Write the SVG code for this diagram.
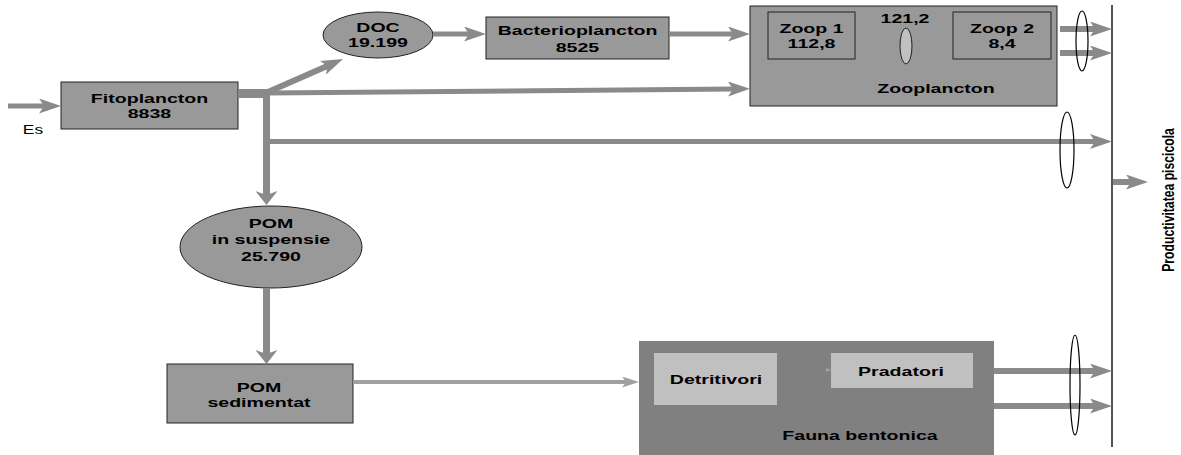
<svg xmlns="http://www.w3.org/2000/svg" width="1181" height="455" viewBox="0 0 1181 455">
<style>
.t{font-family:"Liberation Sans",Arial,sans-serif;font-weight:bold;font-size:13.5px;text-anchor:middle;fill:#000}
.r{font-family:"Liberation Sans",Arial,sans-serif;font-size:12px;text-anchor:middle;fill:#000}
.box{fill:#999;stroke:#222;stroke-width:1}
.ln{stroke:#8a8a8a;fill:none;stroke-linecap:butt}
.lens{fill:none;stroke:#000;stroke-width:1.2}
</style>
<defs>
<marker id="a" markerUnits="userSpaceOnUse" markerWidth="22" markerHeight="15" viewBox="0 0 22 15" refX="6" refY="7.5" orient="auto"><path d="M0,0 L22,7.5 L0,15 L5,7.5 z" fill="#8a8a8a"/></marker>
<marker id="b" markerUnits="userSpaceOnUse" markerWidth="14" markerHeight="22" viewBox="0 0 14 22" refX="5" refY="11" orient="auto"><path d="M0,0 L14,11 L0,22 L4,11 z" fill="#8a8a8a"/></marker>
<marker id="c" markerUnits="userSpaceOnUse" markerWidth="17" markerHeight="11" viewBox="0 0 17 11" refX="5" refY="5.5" orient="auto"><path d="M0,0 L17,5.5 L0,11 L4,5.5 z" fill="#a0a0a0"/></marker>
</defs>

<g id="fitoplancton">
<rect class="box" x="61" y="82" width="177" height="47"/>
<text class="t" transform="translate(149.5,103) scale(1.45,1)"><tspan x="0" y="0">Fitoplancton</tspan><tspan x="0" y="15">8838</tspan></text>
</g>
<g id="es"><text class="r" transform="translate(33,134) scale(1.45,1)">Es</text></g>

<g id="doc">
<ellipse cx="378" cy="35" rx="55" ry="23" fill="#999" stroke="#222" stroke-width="1"/>
<text class="t" transform="translate(378,32) scale(1.45,1)"><tspan x="0" y="0">DOC</tspan><tspan x="0" y="15">19.199</tspan></text>
</g>

<g id="bacterioplancton">
<rect class="box" x="486" y="17" width="183" height="42"/>
<text class="t" transform="translate(577.5,35) scale(1.45,1)"><tspan x="0" y="0">Bacterioplancton</tspan><tspan x="0" y="17">8525</tspan></text>
</g>

<g id="zooplancton">
<rect class="box" x="750" y="6" width="307" height="100"/>
<rect class="box" x="768" y="12" width="87" height="47"/>
<rect class="box" x="953" y="12" width="98" height="47"/>
<text class="t" transform="translate(811.5,33) scale(1.45,1)"><tspan x="0" y="0">Zoop 1</tspan><tspan x="0" y="15">112,8</tspan></text>
<text class="t" transform="translate(1002,33) scale(1.45,1)"><tspan x="0" y="0">Zoop 2</tspan><tspan x="0" y="15">8,4</tspan></text>
<text class="t" transform="translate(905,23) scale(1.45,1)">121,2</text>
<ellipse cx="906" cy="46" rx="6" ry="18" fill="#c0c0c0" stroke="#222" stroke-width="1"/>
<text class="t" transform="translate(936,93) scale(1.45,1)">Zooplancton</text>
</g>

<g id="pom-suspensie">
<ellipse cx="271" cy="247" rx="91" ry="41" fill="#999" stroke="#222" stroke-width="1"/>
<text class="t" transform="translate(271,228) scale(1.45,1)"><tspan x="0" y="0">POM</tspan><tspan x="0" y="16">in suspensie</tspan><tspan x="0" y="33">25.790</tspan></text>
</g>

<g id="pom-sedimentat">
<rect class="box" x="167" y="364" width="186" height="59"/>
<text class="t" transform="translate(259,392) scale(1.45,1)"><tspan x="0" y="0">POM</tspan><tspan x="0" y="15">sedimentat</tspan></text>
</g>

<g id="fauna-bentonica">
<rect x="639" y="341" width="355" height="114" fill="#808080"/>
<rect x="654" y="353" width="123" height="52" fill="#c0c0c0"/>
<rect x="831" y="353" width="142" height="35" fill="#c0c0c0"/>
<text class="t" transform="translate(716,384) scale(1.45,1)">Detritivori</text>
<text class="t" transform="translate(901,376) scale(1.45,1)">Pradatori</text>
<text class="t" transform="translate(860,440) scale(1.45,1)">Fauna bentonica</text>
</g>

<g id="productivitate">
<line x1="1112" y1="5" x2="1112" y2="447" stroke="#555" stroke-width="2"/>
<text class="t" style="font-size:12.2px" transform="translate(1174,200) scale(1.38,1) rotate(-90)">Productivitatea piscicola</text>
</g>

<g id="connectors">
<line class="ln" x1="8" y1="106" x2="45" y2="106" stroke-width="5" marker-end="url(#a)"/>
<line class="ln" x1="238" y1="93.5" x2="270" y2="93.5" stroke-width="9"/>
<line class="ln" x1="266.5" y1="89" x2="266.5" y2="196" stroke-width="7" marker-end="url(#b)"/>
<line class="ln" x1="268" y1="92" x2="328.4" y2="65.4" stroke-width="6" marker-end="url(#a)"/>
<line class="ln" x1="268" y1="93" x2="734" y2="89" stroke-width="5" marker-end="url(#a)"/>
<line class="ln" x1="266" y1="141.5" x2="1096" y2="141.5" stroke-width="5" marker-end="url(#a)"/>
<line class="ln" x1="433" y1="34" x2="470" y2="34" stroke-width="5" marker-end="url(#a)"/>
<line class="ln" x1="669" y1="34" x2="734" y2="34" stroke-width="5" marker-end="url(#a)"/>
<line class="ln" x1="1060" y1="29" x2="1096" y2="29" stroke-width="6" marker-end="url(#a)"/>
<line class="ln" x1="1060" y1="53" x2="1096" y2="53" stroke-width="6" marker-end="url(#a)"/>
<line class="ln" x1="1113" y1="182" x2="1132" y2="182" stroke-width="6" marker-end="url(#a)"/>
<line class="ln" x1="266.5" y1="288" x2="266.5" y2="355" stroke-width="7" marker-end="url(#b)"/>
<line x1="353" y1="382" x2="627" y2="382" stroke="#a0a0a0" stroke-width="4" marker-end="url(#c)"/>
<path d="M826,368 L832,370 L826,372 z" fill="#a0a0a0"/>
<line class="ln" x1="994" y1="371" x2="1096" y2="371" stroke-width="6" marker-end="url(#a)"/>
<line class="ln" x1="994" y1="406" x2="1096" y2="406" stroke-width="6" marker-end="url(#a)"/>
<ellipse class="lens" cx="1082" cy="41" rx="6" ry="30"/>
<ellipse class="lens" cx="1067" cy="150" rx="7" ry="38"/>
<ellipse class="lens" cx="1075" cy="385" rx="5" ry="50"/>
</g>
</svg>
